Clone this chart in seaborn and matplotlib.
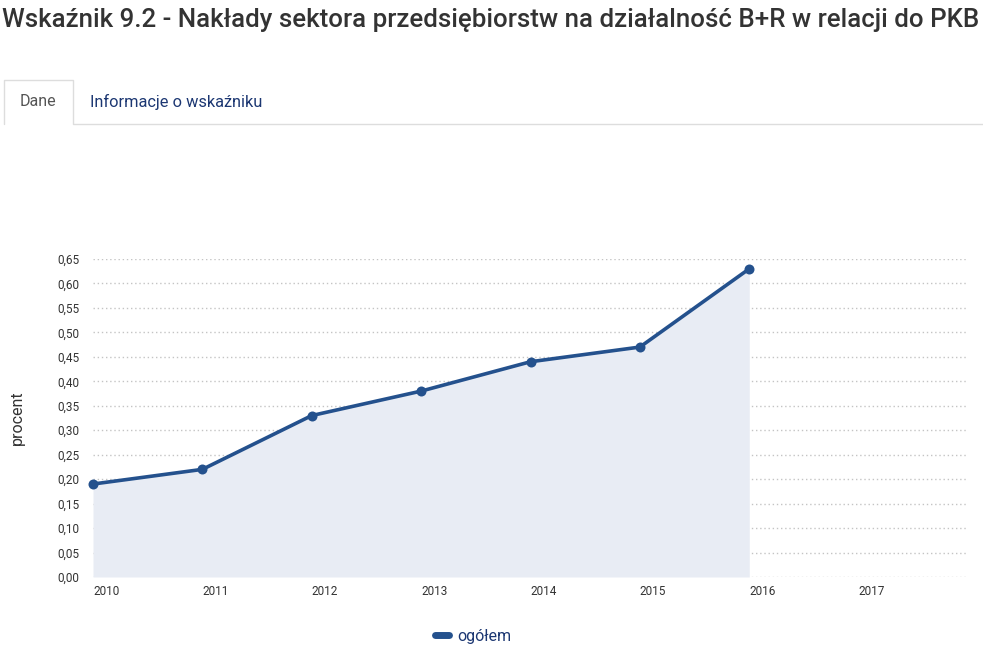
import matplotlib
matplotlib.use("Agg")
import matplotlib.pyplot as plt
from matplotlib.lines import Line2D
from matplotlib.ticker import FuncFormatter
import seaborn as sns
import pandas as pd

years = [2010, 2011, 2012, 2013, 2014, 2015, 2016]
values = [0.19, 0.22, 0.33, 0.38, 0.44, 0.47, 0.63]
series_name = "ogółem"
y_ticks = [0.00, 0.05, 0.10, 0.15, 0.20, 0.25, 0.30, 0.35, 0.40, 0.45, 0.50, 0.55, 0.60, 0.65]
x_ticks = [2010, 2011, 2012, 2013, 2014, 2015, 2016, 2017]

df = pd.DataFrame({"rok": years, "wartosc": values, "seria": series_name})

line_color = "#24518d"
fill_color = "#e8ecf4"
text_color = "#333333"

sns.set_theme(style="white")
plt.rcParams["font.family"] = ["Roboto", "DejaVu Sans"]

fig = plt.figure(figsize=(9.83, 6.48), dpi=100)
W, H = 983, 648
ax = fig.add_axes([93 / W, 71 / H, 875 / W, 318 / H])

ax.fill_between(df["rok"], 0, df["wartosc"], color=fill_color, lw=0, zorder=1)
sns.lineplot(data=df, x="rok", y="wartosc", ax=ax, color=line_color, lw=2.6,
             marker="o", markersize=7.2, markeredgewidth=0, legend=False,
             zorder=3, clip_on=False)

ax.set_xlim(2010, 2018)
ax.set_ylim(0, 0.65)
ax.set_yticks(y_ticks)
ax.yaxis.set_major_formatter(FuncFormatter(lambda v, p: f"{v:.2f}".replace(".", ",")))
ax.set_xticks(x_ticks)
ax.set_xticklabels([str(x) for x in x_ticks], ha="left")
ax.tick_params(axis="both", length=0, labelsize=8.5, colors=text_color)
ax.tick_params(axis="y", pad=10)
ax.tick_params(axis="x", pad=6)
ax.grid(axis="y", linestyle=(0, (1, 2)), color="#c4c4c4", lw=1, zorder=0)
ax.grid(axis="x", visible=False)
for s in ax.spines.values():
    s.set_visible(False)
ax.set_xlabel("")
ax.set_ylabel("procent", fontsize=11.5, color=text_color)
ax.yaxis.set_label_coords(-68 / 875, 0.5)

# title
fig.text(2 / W, 1 - 20 / H, "Wskaźnik 9.2 - Nakłady sektora przedsiębiorstw na działalność B+R w relacji do PKB",
         fontsize=18.6, fontweight="medium", color=text_color, va="center", ha="left")

# tabs: open-bottom active tab, base line to the right
tab_l, tab_r, tab_t, tab_b = 4 / W, 73 / W, 1 - 80 / H, 1 - 124 / H
fig.add_artist(Line2D([tab_l, tab_l, tab_r, tab_r, 1], [tab_b, tab_t, tab_t, tab_b, tab_b],
                      color="#dddddd", lw=1))
fig.text(38 / W, 1 - 102 / H, "Dane", fontsize=11.5, color="#555555", ha="center", va="center")
fig.text(90 / W, 1 - 102 / H, "Informacje o wskaźniku", fontsize=11.8, color="#1c3772",
         ha="left", va="center")

# legend
handle = Line2D([], [], color=line_color, lw=5, solid_capstyle="round")
fig.legend([handle], [series_name], loc="center", bbox_to_anchor=(473 / W, 1 - 636 / H),
           frameon=False, fontsize=11.5, handlelength=0.9, handletextpad=0.5,
           labelcolor="#1c3772")

fig.savefig("out.png", dpi=100)
